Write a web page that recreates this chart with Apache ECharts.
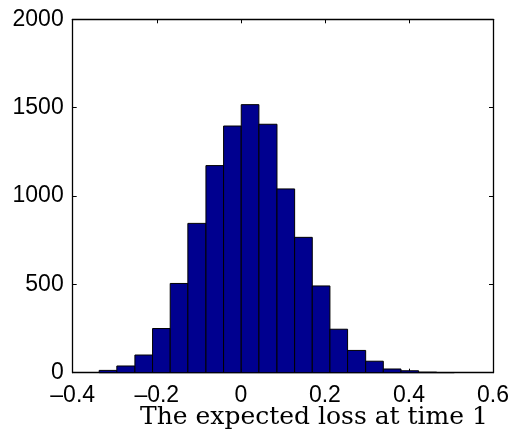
<!DOCTYPE html>
<html>
<head>
<meta charset="utf-8">
<script src="https://cdn.jsdelivr.net/npm/echarts@6/dist/echarts.min.js"></script>
<style>html,body{margin:0;padding:0;background:#fff}#c{width:512px;height:435px}</style>
</head>
<body>
<div id="c"></div>
<script>
// Histogram bin edges (21 edges -> 20 bins)
const binEdges = [-0.337, -0.295, -0.252, -0.210, -0.168, -0.126, -0.083, -0.041, 0.001, 0.043,
                  0.086, 0.128, 0.170, 0.212, 0.254, 0.297, 0.339, 0.381, 0.423, 0.466, 0.508];
// Counts per bin
const counts = [13, 38, 100, 250, 505, 845, 1172, 1396, 1517, 1406,
                1040, 766, 491, 246, 126, 65, 21, 11, 3, 1];
const xTicks = [-0.4, -0.2, 0, 0.2, 0.4, 0.6];
const yTicks = [0, 500, 1000, 1500, 2000];
const xTitle = 'The expected loss at time 1';

const data = counts.map((c, i) => [binEdges[i], binEdges[i + 1], c]);

const chart = echarts.init(document.getElementById('c'), null, {renderer: 'canvas'});
const labelFont = {fontFamily: '"Liberation Sans", Arial, sans-serif', fontSize: 23, color: '#000'};
const axCommon = {
  axisLine: {show: true, onZero: false, lineStyle: {color: '#000', width: 1.3}},
  axisTick: {show: true, inside: true, length: 4, lineStyle: {color: '#000', width: 1}},
  splitLine: {show: false}
};
function fmtX(v) {
  const r = Math.round(v * 10) / 10;
  if (r === 0) return '0';
  return (r < 0 ? '\u2013' : '') + Math.abs(r).toFixed(1);
}
function fmtY(v) { return String(Math.round(v)); }
chart.setOption({
  animation: false,
  backgroundColor: '#fff',
  grid: {left: 72.7, right: 18.7, top: 19.3, bottom: 62.3, containLabel: false},
  xAxis: [
    Object.assign({type: 'value', min: xTicks[0], max: xTicks[xTicks.length - 1], interval: 0.2,
      position: 'bottom',
      axisLabel: Object.assign({show: true, margin: 11, formatter: fmtX}, labelFont)}, axCommon),
    Object.assign({type: 'value', min: xTicks[0], max: xTicks[xTicks.length - 1], interval: 0.2,
      position: 'top', axisLabel: {show: false}}, axCommon)
  ],
  yAxis: [
    Object.assign({type: 'value', min: yTicks[0], max: yTicks[yTicks.length - 1], interval: 500,
      position: 'left',
      axisLabel: Object.assign({show: true, margin: 9, formatter: fmtY}, labelFont)}, axCommon),
    Object.assign({type: 'value', min: yTicks[0], max: yTicks[yTicks.length - 1], interval: 500,
      position: 'right', axisLabel: {show: false}}, axCommon)
  ],
  series: [{
    type: 'custom',
    xAxisIndex: 0,
    yAxisIndex: 0,
    data: data,
    encode: {x: [0, 1], y: 2},
    renderItem: function (params, api) {
      const p0 = api.coord([api.value(0), 0]);
      const p1 = api.coord([api.value(1), api.value(2)]);
      return {
        type: 'rect',
        shape: {x: p0[0], y: p1[1], width: p1[0] - p0[0], height: p0[1] - p1[1]},
        style: {fill: '#00008f', stroke: '#000', lineWidth: 1}
      };
    }
  }],
  graphic: [{
    type: 'text',
    left: 140, top: 405,
    style: {text: xTitle, font: '25px "DejaVu Serif", "Liberation Serif", serif', fill: '#000'}
  }]
});
</script>
</body>
</html>
